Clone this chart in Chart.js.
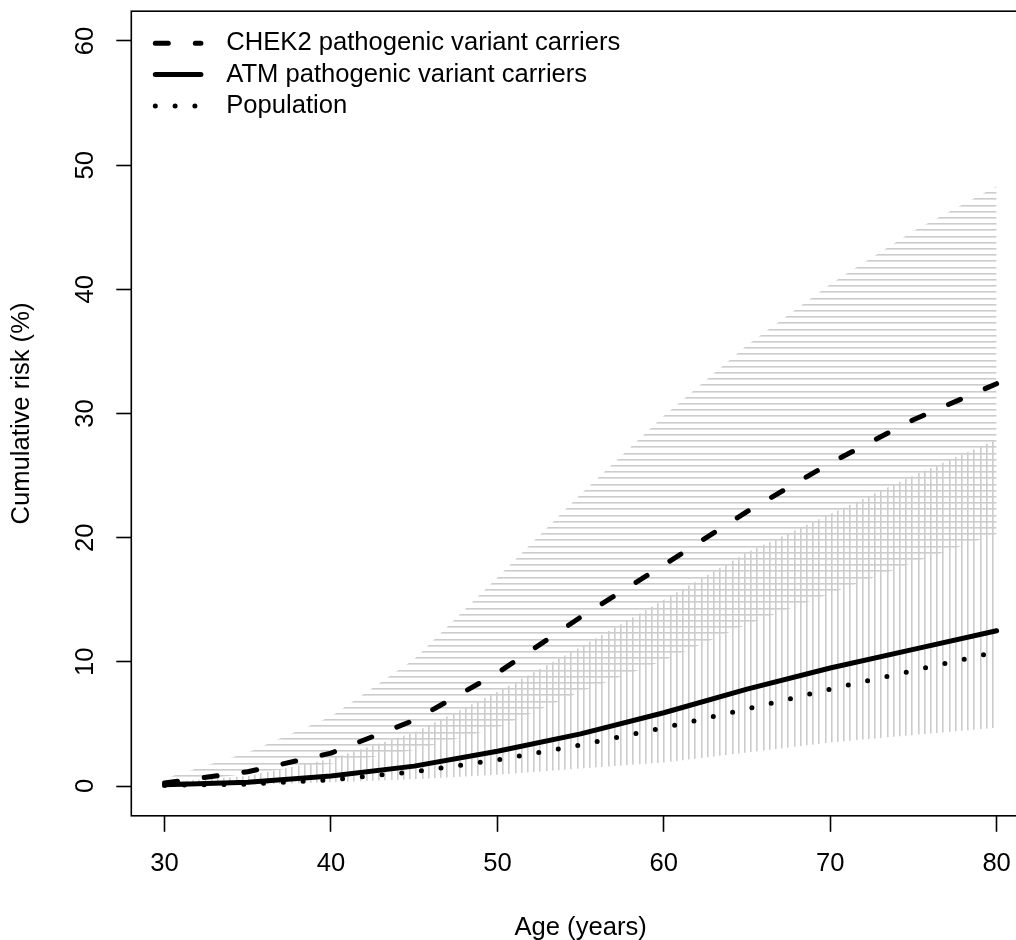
<!DOCTYPE html>
<html>
<head>
<meta charset="utf-8">
<script src="https://cdn.jsdelivr.net/npm/chart.js@4.4.1/dist/chart.umd.min.js"></script>
<style>
  html, body { margin: 0; padding: 0; background: #fff; overflow: hidden; }
  canvas { display: block; }
</style>
</head>
<body>
<canvas id="riskChart" width="1046" height="940"></canvas>
<script>
// Values, every 5 years of age
const ages = [30, 35, 40, 45, 50, 55, 60, 65, 70, 75, 80];
const chek2 = [0.25, 1.15, 2.65, 5.3, 9.1, 13.6, 17.8, 22.1, 26.0, 29.5, 32.4];
const chek2Upper = [0.6, 2.7, 5.6, 10.2, 16.8, 23.5, 29.8, 35.5, 40.4, 44.7, 48.3];
const chek2Lower = [0.1, 1.0, 1.8, 2.9, 4.7, 7.6, 10.1, 13.0, 15.5, 18.0, 20.3];
const atm = [0.1, 0.3, 0.8, 1.6, 2.8, 4.2, 5.9, 7.8, 9.5, 11.0, 12.5];
const atmUpper = [0.3, 0.8, 2.2, 4.3, 7.6, 11.2, 15.0, 18.8, 21.9, 25.0, 27.9];
const atmLower = [0.0, 0.1, 0.3, 0.55, 0.9, 1.4, 1.9, 2.7, 3.5, 4.1, 4.7];
const population = [0.05, 0.15, 0.5, 1.15, 2.1, 3.3, 4.7, 6.2, 7.8, 9.3, 10.8];

const xTicks = [30, 40, 50, 60, 70, 80];
const yTicks = [0, 10, 20, 30, 40, 50, 60];

const FONT = { family: '"Liberation Sans", Arial, Helvetica, sans-serif', size: 25.6 };
Chart.defaults.color = '#000';
Chart.defaults.font.family = FONT.family;
Chart.defaults.font.size = FONT.size;

function series(values) {
  return ages.map((a, i) => ({ x: a, y: values[i] }));
}

// gray hatching like R's polygon(density=...)
function hatch(dir) {
  const c = document.createElement('canvas');
  c.width = 31;
  c.height = 31;
  const g = c.getContext('2d');
  g.fillStyle = '#cccccc';
  [0, 6, 12, 19, 25].forEach((p) => {
    if (dir === 'h') g.fillRect(0, p, 31, 1.6);
    else g.fillRect(p, 0, 1.6, 31);
  });
  return g.createPattern(c, 'repeat');
}

const bandLine = {
  borderWidth: 0,
  borderColor: 'rgba(0,0,0,0)',
  showLine: false,
  pointRadius: 0,
};

// box around the plot region
const boxPlugin = {
  id: 'box',
  afterDatasetsDraw(chart) {
    const { ctx, chartArea: a } = chart;
    ctx.save();
    ctx.strokeStyle = '#000';
    ctx.lineWidth = 1.6;
    ctx.strokeRect(a.left, a.top, a.right - a.left, a.bottom - a.top);
    ctx.restore();
  },
};

// legend in the top left corner, no frame
const legendPlugin = {
  id: 'rLegend',
  afterDatasetsDraw(chart) {
    const { ctx, chartArea: a } = chart;
    ctx.save();
    let row = 0;
    chart.data.datasets.forEach((ds) => {
      if (!ds.inLegend) return;
      const y = a.top + 32.1 + row * 31.3;
      const x0 = a.left + 24;
      ctx.beginPath();
      ctx.strokeStyle = ds.borderColor;
      ctx.lineWidth = ds.borderWidth;
      ctx.lineCap = ds.borderCapStyle || 'butt';
      ctx.setLineDash(ds.borderDash || []);
      ctx.moveTo(x0, y);
      ctx.lineTo(x0 + 45.6, y);
      ctx.stroke();
      ctx.setLineDash([]);
      ctx.fillStyle = '#000';
      ctx.font = FONT.size + 'px ' + FONT.family;
      ctx.textAlign = 'left';
      ctx.textBaseline = 'middle';
      ctx.fillText(ds.label, a.left + 95, y);
      row++;
    });
    ctx.restore();
  },
};

const ctx = document.getElementById('riskChart').getContext('2d');

new Chart(ctx, {
  type: 'line',
  data: {
    datasets: [
      {
        label: 'CHEK2 pathogenic variant carriers',
        data: series(chek2),
        borderColor: '#000',
        borderWidth: 5,
        borderDash: [13, 27],
        borderCapStyle: 'round',
        borderJoinStyle: 'round',
        pointRadius: 0,
        fill: false,
        inLegend: true,
      },
      {
        label: 'ATM pathogenic variant carriers',
        data: series(atm),
        borderColor: '#000',
        borderWidth: 5,
        borderCapStyle: 'round',
        borderJoinStyle: 'round',
        pointRadius: 0,
        fill: false,
        inLegend: true,
      },
      {
        label: 'Population',
        data: series(population),
        borderColor: '#000',
        borderWidth: 5,
        borderDash: [0, 19.8],
        borderCapStyle: 'round',
        pointRadius: 0,
        fill: false,
        inLegend: true,
      },
      { label: 'CHEK2 upper', data: series(chek2Upper), ...bandLine, fill: false },
      { label: 'CHEK2 lower', data: series(chek2Lower), ...bandLine, fill: 3, backgroundColor: hatch('h') },
      { label: 'ATM upper', data: series(atmUpper), ...bandLine, fill: false },
      { label: 'ATM lower', data: series(atmLower), ...bandLine, fill: 5, backgroundColor: hatch('v') },
    ],
  },
  options: {
    responsive: false,
    animation: false,
    events: [],
    layout: { padding: { left: 0, top: 11.2, right: 16.1, bottom: 0 } },
    elements: { line: { tension: 0 } },
    plugins: {
      legend: { display: false },
      tooltip: { enabled: false },
      filler: { drawTime: 'beforeDatasetsDraw' },
    },
    scales: {
      x: {
        type: 'linear',
        min: 28,
        max: 82,
        afterBuildTicks: (scale) => {
          scale.ticks = xTicks.map((v) => ({ value: v }));
        },
        afterFit: (scale) => {
          scale.height = 124.2;
          scale.paddingLeft = 0;
          scale.paddingRight = 0;
        },
        border: { display: false },
        grid: {
          drawOnChartArea: false,
          drawTicks: true,
          tickLength: 16,
          tickColor: '#000',
          tickWidth: 1.6,
        },
        ticks: { padding: 17, maxRotation: 0, autoSkip: false, font: FONT },
        title: { display: true, text: 'Age (years)', font: FONT, padding: { top: 0, bottom: -3 } },
      },
      y: {
        type: 'linear',
        min: -2.4,
        max: 62.4,
        afterBuildTicks: (scale) => {
          scale.ticks = yTicks.map((v) => ({ value: v }));
        },
        afterFit: (scale) => {
          scale.width = 131.3;
          scale.paddingTop = 0;
          scale.paddingBottom = 0;
        },
        border: { display: false },
        grid: {
          drawOnChartArea: false,
          drawTicks: true,
          tickLength: 15,
          tickColor: '#000',
          tickWidth: 1.6,
        },
        ticks: {
          padding: 16,
          minRotation: 90,
          maxRotation: 90,
          crossAlign: 'center',
          autoSkip: false,
          font: FONT,
        },
        title: { display: true, text: 'Cumulative risk (%)', font: FONT, padding: { top: 7, bottom: 0 } },
      },
    },
  },
  plugins: [boxPlugin, legendPlugin],
});
</script>
</body>
</html>
